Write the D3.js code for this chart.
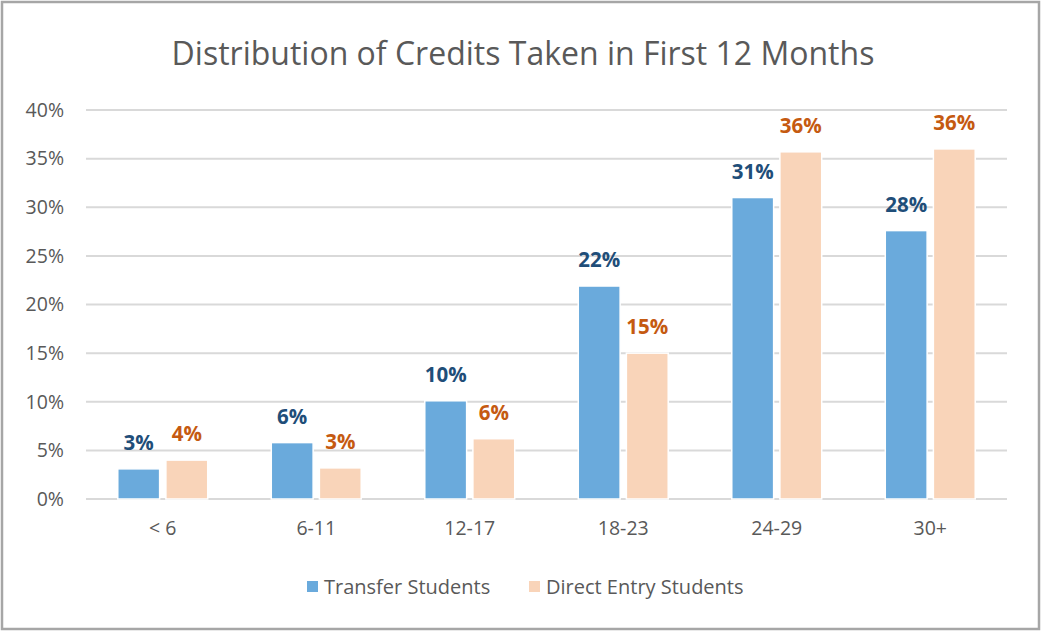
<!DOCTYPE html>
<html>
<head>
<meta charset="utf-8">
<script src="https://cdn.jsdelivr.net/npm/d3@7"></script>
<style>
  body { margin: 0; background: #fff; }
  svg text { font-family: "Open Sans", sans-serif; }
</style>
</head>
<body>
<div id="chart"></div>
<script>
// data
const categories = ['< 6', '6-11', '12-17', '18-23', '24-29', '30+'];
const seriesNames = ['Transfer Students', 'Direct Entry Students'];
const transfer = [3.1, 5.8, 10.1, 21.9, 31.0, 27.6];
const directEntry = [4.0, 3.2, 6.2, 15.0, 35.7, 36.0];
const yTicks = [0, 5, 10, 15, 20, 25, 30, 35, 40];

const fills = ['#6aaadc', '#f9d4b9'];
const labelColors = ['#1f4e79', '#c55a11'];

const W = 1041, H = 632;
const margin = { top: 110, right: 34, bottom: 133, left: 86 };

const svg = d3.select('#chart').append('svg').attr('width', W).attr('height', H);

// frame
svg.append('rect')
  .attr('x', 2).attr('y', 2).attr('width', W - 4).attr('height', H - 5)
  .attr('fill', 'white').attr('stroke', '#a6a6a6').attr('stroke-width', 2.5);

svg.append('text')
  .attr('x', 523).attr('y', 65)
  .attr('text-anchor', 'middle')
  .attr('fill', '#595959')
  .style('font-size', '32px')
  .text('Distribution of Credits Taken in First 12 Months');

const x0 = d3.scaleBand().domain(categories)
  .range([margin.left, W - margin.right])
  .paddingInner(0.414).paddingOuter(0.207);
const x1 = d3.scaleBand().domain(seriesNames)
  .range([0, x0.bandwidth()])
  .paddingInner(0.13);
const y = d3.scaleLinear().domain([0, 40]).range([H - margin.bottom, margin.top]);

// gridlines
svg.append('g')
  .selectAll('line')
  .data(yTicks)
  .join('line')
  .attr('x1', margin.left).attr('x2', W - margin.right)
  .attr('y1', d => y(d)).attr('y2', d => y(d))
  .attr('stroke', '#d9d9d9').attr('stroke-width', 2);

const yAxis = d3.axisLeft(y).tickValues(yTicks).tickFormat(d => d + '%').tickSize(0).tickPadding(22);
svg.append('g')
  .attr('transform', `translate(${margin.left}, 0)`)
  .call(yAxis)
  .call(g => g.select('.domain').remove())
  .selectAll('text')
  .style('font-size', '19.5px')
  .attr('fill', '#595959');

const xAxis = d3.axisBottom(x0).tickSize(0).tickPadding(22);
svg.append('g')
  .attr('transform', `translate(0, ${y(0)})`)
  .call(xAxis)
  .call(g => g.select('.domain').remove())
  .selectAll('text')
  .style('font-size', '19.5px')
  .attr('fill', '#595959');

const rows = categories.map((c, i) => ({ cat: c, vals: [transfer[i], directEntry[i]] }));

const groups = svg.append('g')
  .selectAll('g')
  .data(rows)
  .join('g')
  .attr('transform', d => `translate(${x0(d.cat)}, 0)`);

groups.selectAll('rect')
  .data(d => d.vals.map((v, k) => ({ k, v })))
  .join('rect')
  .attr('x', d => x1(seriesNames[d.k]))
  .attr('y', d => y(d.v))
  .attr('width', x1.bandwidth())
  .attr('height', d => y(0) - y(d.v))
  .attr('fill', d => fills[d.k])
  .attr('stroke', 'white').attr('stroke-width', 1.5);

groups.selectAll('text')
  .data(d => d.vals.map((v, k) => ({ k, v })))
  .join('text')
  .attr('x', d => x1(seriesNames[d.k]) + x1.bandwidth() / 2)
  .attr('y', d => y(d.v) - 19)
  .attr('text-anchor', 'middle')
  .attr('fill', d => labelColors[d.k])
  .style('font-size', '20.5px')
  .style('font-weight', 'bold')
  .text(d => Math.round(d.v) + '%');

// legend
const legend = svg.append('g').attr('transform', 'translate(0, 587)');
const legendX = [307, 529];
seriesNames.forEach((s, k) => {
  legend.append('rect')
    .attr('x', legendX[k]).attr('y', -6).attr('width', 11).attr('height', 11)
    .attr('fill', fills[k]);
  legend.append('text')
    .attr('x', legendX[k] + 17).attr('y', 7)
    .attr('fill', '#595959')
    .style('font-size', '20px')
    .text(s);
});
</script>
</body>
</html>
